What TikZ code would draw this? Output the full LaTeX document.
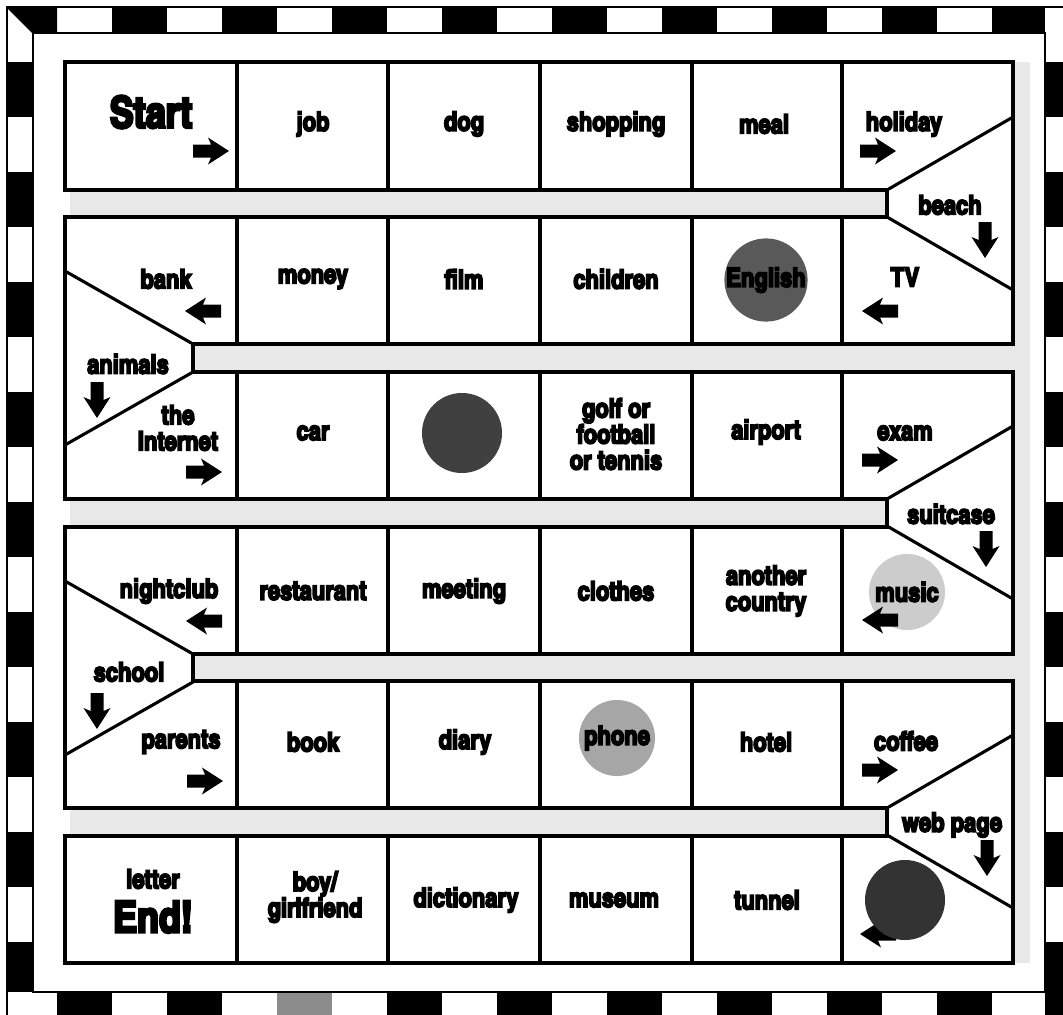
\documentclass[tikz,border=0pt]{standalone}
\usepackage{fontspec}
\newfontfamily\boardfont{texgyreheroscn-bold.otf}[FakeBold=6]
\newcommand\wordsize{\fontsize{19}{18.5}\selectfont}
\newcommand\bigsize{\fontsize{31}{31}\selectfont}
\tikzset{
  board/.style={draw=black, line width=3pt, line join=miter, fill=white},
  divider/.style={draw=black, line width=2.2pt},
  word/.style={font=\boardfont\wordsize, align=center, inner sep=0pt},
  bigword/.style={font=\boardfont\bigsize, inner sep=0pt},
  spot/.style={circle, inner sep=0pt, minimum size=2cm, font=\boardfont\wordsize},
  track/.style={fill=black!9},
  check/.style={fill=black},
  arrow r/.pic={
    \fill (-18,-6.5) -- (0,-6.5) -- (-3,-13.5) -- (18,0) -- (-3,13.5) -- (0,6.5) -- (-18,6.5) -- cycle;
  }
}

\begin{document}
\begin{tikzpicture}[x=0.025cm,y=-0.025cm]
  \useasboundingbox (0,0) rectangle (1063,1014);
  \clip (0,0) rectangle (1063,1014);
  \fill[white] (0,0) rectangle (1063,1014);

  % checkered frame
  \fill[check] (7,7) -- (57,7) -- (57,33) -- (33,33) -- cycle;
  \foreach \x in {112,222,...,882}
    \fill[check] (\x,7) rectangle +(55,26);
  \fill[check] (992,7) rectangle (1045,33);
  \foreach \x in {57,167,387,497,...,937}
    \fill[check] (\x,992) rectangle +(55,26);
  \fill[black!45] (277,992) rectangle +(55,26);
  \foreach \y in {62,172,...,832} {
    \fill[check] (7,\y) rectangle +(26,55);
    \fill[check] (1045,\y) rectangle +(26,55);
  }
  \fill[check] (7,942) rectangle (33,992);
  \fill[check] (1045,942) rectangle (1071,1018);
  \draw[line width=0.8pt] (7,7) rectangle (1071,1018);
  \draw[line width=0.8pt] (33,33) rectangle (1045,992);
  \draw[line width=0.8pt] (7,7) -- (33,33);

  % track between the rows
  \fill[track] (70,62) rectangle (1030,963);

  % the board
  \path[board] (65,62) -- (1013,62) -- (1013,344) -- (193,344) -- (193,372)
    -- (1013,372) -- (1013,654) -- (193,654) -- (193,681) -- (1013,681)
    -- (1013,963) -- (65,963) -- (65,836) -- (887,836) -- (887,808)
    -- (65,808) -- (65,527) -- (887,527) -- (887,499) -- (65,499)
    -- (65,217) -- (887,217) -- (887,190) -- (65,190) -- cycle;
  \foreach \t in {62,217,372,527,681,836}
    \foreach \x in {237,388,540,692,842}
      \draw[divider] (\x,\t) -- (\x,\t+127);
  \foreach \b in {190,499,808} {
    \draw[divider] (887,\b) -- (1013,\b-73);
    \draw[divider] (887,\b+27) -- (1013,\b+100);
  }
  \foreach \b in {344,654} {
    \draw[divider] (193,\b) -- (65,\b-73);
    \draw[divider] (193,\b+28) -- (65,\b+101);
  }

  % row 1
  \node[bigword] (start) at (151,112) {Start};
  \pic at (211,151) {arrow r};
  \node[word] (job) at (313,124) {job};
  \node[word] (dog) at (464,124) {dog};
  \node[word] (shopping) at (616,124) {shopping};
  \node[word] (meal) at (764,124) {meal};
  \node[word] (holiday) at (904,124) {holiday};
  \pic at (878,151) {arrow r};
  \node[word] (beach) at (950,205) {beach};
  \pic[rotate=-90] at (985,240) {arrow r};

  % row 2
  \node[word] (bank) at (166,279) {bank};
  \pic[rotate=180] at (203,311) {arrow r};
  \node[word] (money) at (313,279) {money};
  \node[word] (film) at (464,279) {film};
  \node[word] (children) at (616,279) {children};
  \node[spot, fill=black!65] (english) at (766,280) {English};
  \node[word] (tv) at (905,277) {TV};
  \pic[rotate=180] at (880,311) {arrow r};
  \node[word] (animals) at (128,364) {animals};
  \pic[rotate=-90] at (97,400) {arrow r};

  % row 3
  \node[word] (internet) at (178,428) {the\\Internet};
  \pic at (204,472) {arrow r};
  \node[word] (car) at (313,433) {car};
  \node[spot, fill=black!75] (spot3) at (462,433) {};
  \node[word] (golf) at (616,434) {golf or\\football\\or tennis};
  \node[word] (airport) at (766,432) {airport};
  \node[word] (exam) at (905,433) {exam};
  \pic at (880,460) {arrow r};
  \node[word] (suitcase) at (951,514) {suitcase};
  \pic[rotate=-90] at (986,549) {arrow r};

  % row 4
  \node[word] (nightclub) at (169,591) {nightclub};
  \pic[rotate=180] at (204,621) {arrow r};
  \node[word] (restaurant) at (313,591) {restaurant};
  \node[word] (meeting) at (464,591) {meeting};
  \node[word] (clothes) at (616,591) {clothes};
  \node[word] (country) at (766,591) {another\\country};
  \node[spot, fill=black!20, minimum size=1.9cm] (music) at (907,592) {music};
  \pic[rotate=180] at (880,620) {arrow r};
  \node[word] (school) at (129,672) {school};
  \pic[rotate=-90] at (97,711) {arrow r};

  % row 5
  \node[word] (parents) at (181,742) {parents};
  \pic at (205,781) {arrow r};
  \node[word] (book) at (313,742) {book};
  \node[word] (diary) at (465,742) {diary};
  \node[spot, fill=black!35, minimum size=1.9cm] (phone) at (617,738) {phone};
  \node[word] (hotel) at (766,742) {hotel};
  \node[word] (coffee) at (906,741) {coffee};
  \pic at (880,770) {arrow r};
  \node[word] (webpage) at (952,825) {web page};
  \pic[rotate=-90] at (987,858) {arrow r};

  % row 6
  \node[word] (letter) at (153,879) {letter};
  \node[bigword] (end) at (153,917) {End!};
  \node[word] (boy) at (315,897) {boy/\\girlfriend};
  \node[word] (dictionary) at (466,900) {dictionary};
  \node[word] (museum) at (614,900) {museum};
  \node[word] (tunnel) at (767,900) {tunnel};
  \pic[rotate=180] at (878,934) {arrow r};
  \node[spot, fill=black!80] (spot6) at (905,900) {};
\end{tikzpicture}
\end{document}
